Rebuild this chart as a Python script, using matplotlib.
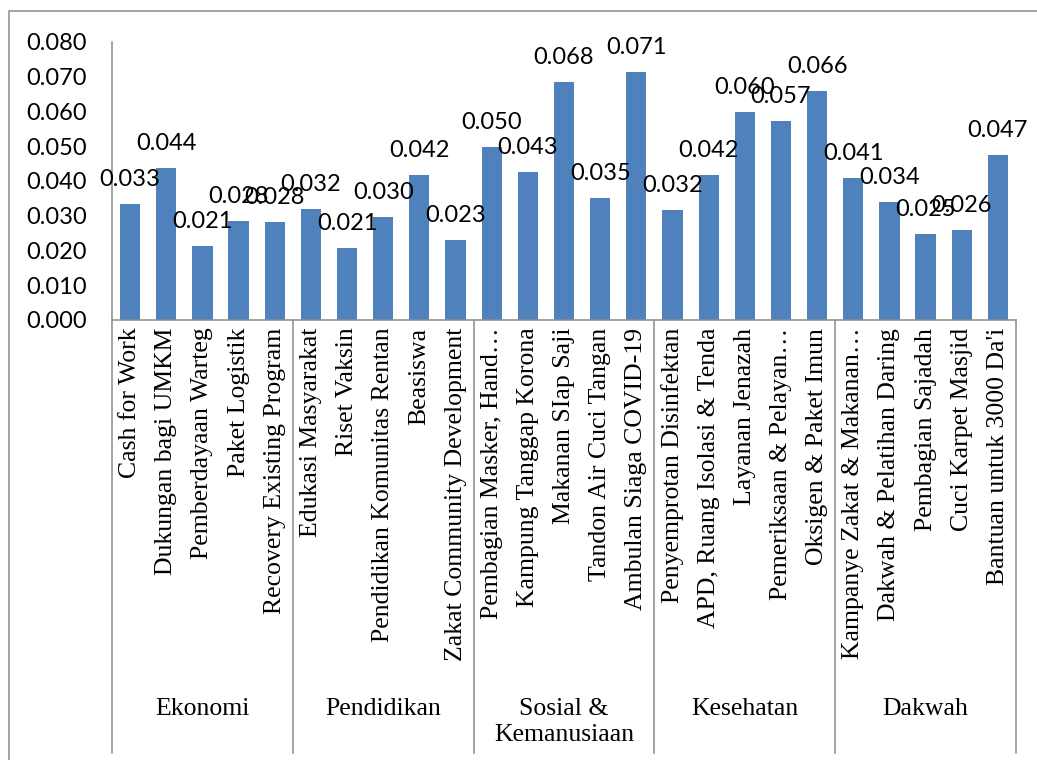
#Header files
import numpy as np
import matplotlib.pyplot as plt
from matplotlib.patches import Rectangle

#Data
programs = ['Cash for Work', 'Dukungan bagi UMKM', 'Pemberdayaan Warteg', 'Paket Logistik',
            'Recovery Existing Program',
            'Edukasi Masyarakat', 'Riset Vaksin', 'Pendidikan Komunitas Rentan', 'Beasiswa',
            'Zakat Community Development',
            'Pembagian Masker, Hand\u2026', 'Kampung Tanggap Korona', 'Makanan SIap Saji',
            'Tandon Air Cuci Tangan', 'Ambulan Siaga COVID-19',
            'Penyemprotan Disinfektan', 'APD, Ruang Isolasi & Tenda', 'Layanan Jenazah',
            'Pemeriksaan & Pelayan\u2026', 'Oksigen & Paket Imun',
            'Kampanye Zakat & Makanan\u2026', 'Dakwah & Pelatihan Daring', 'Pembagian Sajadah',
            'Cuci Karpet Masjid', "Bantuan untuk 3000 Da'i"]
weights = [0.0334, 0.0436, 0.0212, 0.0284, 0.0281,
           0.0318, 0.0207, 0.0297, 0.0418, 0.0229,
           0.0496, 0.0426, 0.0683, 0.0352, 0.0713,
           0.0317, 0.0416, 0.0599, 0.0573, 0.0657,
           0.0407, 0.0338, 0.0246, 0.0260, 0.0473]
groups = ['Ekonomi', 'Pendidikan', 'Sosial &\nKemanusiaan', 'Kesehatan', 'Dakwah']
group_size = [5, 5, 5, 5, 5]

# Code starts here
fig = plt.figure(figsize=(10.37, 7.6), dpi=100)
ax = fig.add_axes([112/1037, 1-320/760, (1016-112)/1037, (320-41.7)/760])

x = np.arange(len(programs))
ax.bar(x, weights, width=0.56, color='#4F81BD')

#data labels
for xi, v in zip(x, weights):
    ax.annotate('%.3f' % v, (xi, v), xytext=(0, 18), textcoords='offset pixels',
                ha='center', va='baseline', fontsize=17, family='Lato')

ax.set_xlim(-0.5, len(programs)-0.5)
ax.set_ylim(0, 0.08)
ax.set_yticks(np.arange(0, 0.081, 0.01))
ax.set_yticklabels(['%.3f' % t for t in np.arange(0, 0.081, 0.01)], family='Lato', fontsize=17)
ax.tick_params(axis='y', length=0, pad=18)

ax.set_xticks(x)
ax.set_xticklabels(programs, rotation=90, family='Liberation Serif', fontsize=18.5)
ax.tick_params(axis='x', length=0, pad=5.5)

for s in ['top', 'right']:
    ax.spines[s].set_visible(False)
for s in ['left', 'bottom']:
    ax.spines[s].set_color('#8c8c8c')
    ax.spines[s].set_linewidth(1.1)

#group separators and group names
trans = ax.get_xaxis_transform()
ybot = -(753-320)/(320-41.7)
edges = np.concatenate([[0], np.cumsum(group_size)]) - 0.5
for e in edges:
    ax.plot([e, e], [0, ybot], color='#8c8c8c', lw=1.1, transform=trans, clip_on=False)
ytxt = -(698-320)/(320-41.7)
for i, g in enumerate(groups):
    mid = (edges[i] + edges[i+1]) / 2
    ax.text(mid, ytxt, g, transform=trans, ha='center', va='top', multialignment='center',
            family='Liberation Serif', fontsize=18.5, linespacing=1.25)

#outer chart frame
fig.patches.append(Rectangle((9/1037, -0.05), 1.1, 1.05-11/760, transform=fig.transFigure,
                             fill=False, edgecolor='#8c8c8c', lw=1.1))

plt.savefig('out.png', dpi=100)
